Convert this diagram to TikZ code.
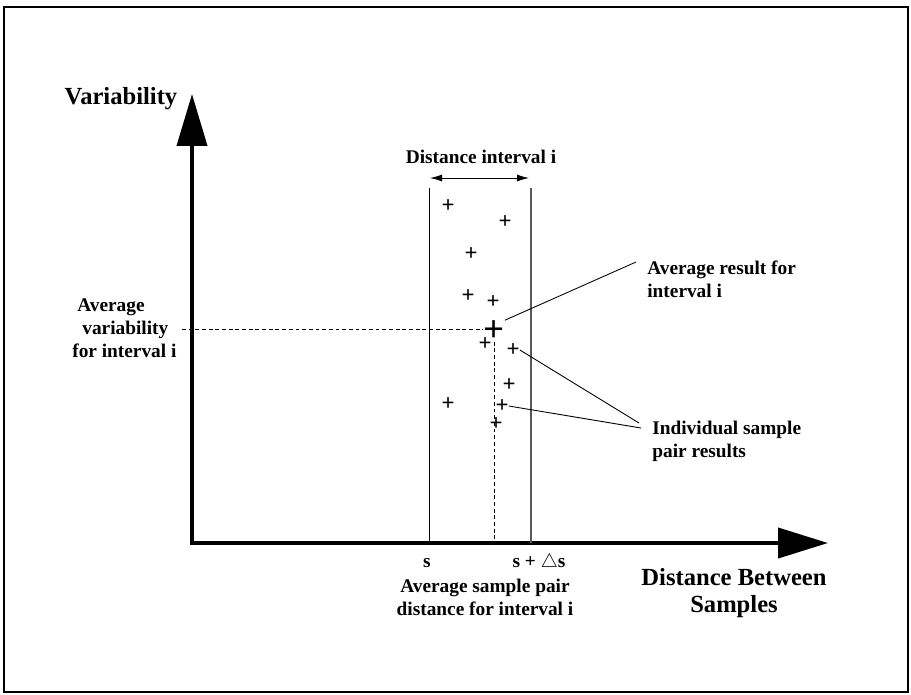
\documentclass[tikz,border=0pt]{standalone}
\usepackage{fontspec}
\setmainfont{Liberation Serif}
\usetikzlibrary{arrows.meta}

\begin{document}
\begin{tikzpicture}[x=0.02cm,y=-0.02cm,
        lbl/.style={font=\fontsize{11}{13}\selectfont\bfseries,inner sep=0pt},
        biglbl/.style={font=\fontsize{14}{15.5}\selectfont\bfseries,inner sep=0pt},
        smp/.style={font=\fontsize{13}{13}\selectfont\bfseries,inner sep=0pt},
        axis/.style={line width=0.08cm,line join=miter,
            {Triangle[length=1.04cm,width=0.6cm]}-{Triangle[length=1cm,width=0.6cm]}},
        guide/.style={line width=0.5pt,dash pattern=on 2.2pt off 1.6pt}]
    \useasboundingbox (0,0) rectangle (911,694);
    \draw[line width=1.1pt] (4,7) rectangle (908,692);

    \coordinate (origin) at (192,543);
    \coordinate (ytip) at (192,94);
    \coordinate (xtip) at (828,543);
    \draw[axis] (ytip) -- (origin) -- (xtip);

    \node [biglbl] (ylbl) at (121,99) {Variability};
    \node [biglbl,align=center] (xlbl) at (734,593) {Distance Between\\Samples};

    % interval
    \coordinate (sl) at (429,543);
    \coordinate (sr) at (531,543);
    \draw[line width=0.5pt] (429,188) -- (sl);
    \draw[line width=0.9pt,black!65] (531,188) -- (sr);
    \draw[line width=0.5pt,{Latex[length=0.24cm,width=0.14cm]}-{Latex[length=0.24cm,width=0.14cm]}]
        (430,178) -- (529,178);
    \node [lbl] (intlbl) at (481,157) {Distance interval i};
    \node [lbl] (slbl) at (427,563) {s};
    \node [lbl] (dslbl) at (539,563) {s + $\triangle$s};

    % sample pairs
    \node [smp] (p1) at (448,206) {+};
    \node [smp] (p2) at (505,222) {+};
    \node [smp] (p3) at (471,254) {+};
    \node [smp] (p4) at (468,296) {+};
    \node [smp] (p5) at (493,302) {+};
    \node [smp] (p6) at (485,344) {+};
    \node [smp] (p7) at (513,350) {+};
    \node [smp] (p8) at (509,385) {+};
    \node [smp] (p9) at (448,404) {+};
    \node [smp] (p10) at (502,406) {+};
    \node [smp] (p11) at (496,424) {+};
    \node [font=\fontsize{21}{21}\selectfont\bfseries,inner sep=0pt] (avg) at (494,331) {+};

    \coordinate (vstart) at (182,329);
    \draw[guide] (vstart) -- (avg.west |- vstart);
    \draw[guide] (avg.south) -- (avg.south |- origin);

    \node [lbl,align=left,anchor=west] (varlbl) at (72,328)
        {\hspace*{0.1cm}Average\\\hspace*{0.2cm}variability\\for interval i};
    \node [lbl,align=center] (distlbl) at (485,597) {Average sample pair\\distance for interval i};

    \node [lbl,align=left,anchor=west] (reslbl) at (647,279) {Average result for\\interval i};
    \node [lbl,align=left,anchor=west] (indlbl) at (652,441) {Individual sample\\pair results};

    \coordinate (resend) at (636,262);
    \coordinate (indA) at (639,423);
    \coordinate (indB) at (641,428);
    \draw[line width=0.5pt] (avg.north east) -- (resend);
    \draw[line width=0.5pt] (p7.east) -- (indA);
    \draw[line width=0.5pt] (p10.east) -- (indB);
\end{tikzpicture}
\end{document}
